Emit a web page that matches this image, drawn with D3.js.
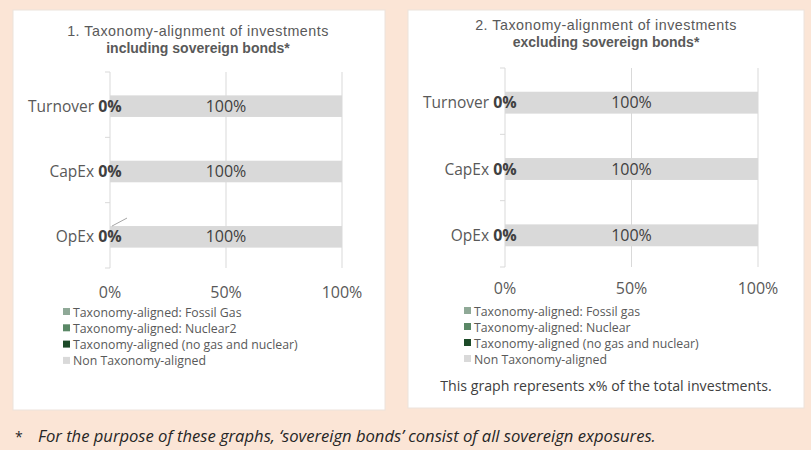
<!DOCTYPE html>
<html>
<head>
<meta charset="utf-8">
<script src="https://cdn.jsdelivr.net/npm/d3@7/dist/d3.min.js"></script>
<style>
  html, body { margin: 0; padding: 0; background: #fbe5d6; }
  svg { display: block; font-family: "Open Sans", sans-serif; }
</style>
</head>
<body>
<svg id="chart" width="811" height="450"></svg>
<script>
// ---- data ----
const categories = ["Turnover", "CapEx", "OpEx"];
const xTicks = [0, 50, 100];
const seriesKeys = ["gas", "nuclear", "aligned", "non"];
const seriesColors = ["#8fa997", "#5a8866", "#1c4a28", "#d9d9d9"];

// Chart 1: including sovereign bonds
const incGas = [0, 0, 0];
const incNuclear = [0, 0, 0];
const incAligned = [0, 0, 0];
const incNon = [100, 100, 100];
const incLegend = ["Taxonomy-aligned: Fossil Gas", "Taxonomy-aligned: Nuclear2",
                   "Taxonomy-aligned (no gas and nuclear)", "Non Taxonomy-aligned"];
const incTitle = ["1. Taxonomy-alignment of investments", "including sovereign bonds*"];

// Chart 2: excluding sovereign bonds
const excGas = [0, 0, 0];
const excNuclear = [0, 0, 0];
const excAligned = [0, 0, 0];
const excNon = [100, 100, 100];
const excLegend = ["Taxonomy-aligned: Fossil gas", "Taxonomy-aligned: Nuclear",
                   "Taxonomy-aligned (no gas and nuclear)", "Non Taxonomy-aligned"];
const excTitle = ["2. Taxonomy-alignment of investments", "excluding sovereign bonds*"];
const excNote = "This graph represents x% of the total investments.";

const footnote = "For the purpose of these graphs, \u2018sovereign bonds\u2019 consist of all sovereign exposures.";

// ---- drawing ----
const svg = d3.select("#chart");

function buildRows(gas, nuclear, aligned, non) {
  return categories.map((c, i) => ({cat: c, gas: gas[i], nuclear: nuclear[i], aligned: aligned[i], non: non[i]}));
}

function drawPanel(o) {
  const g = svg.append("g");
  g.append("rect").attr("x", o.box[0]).attr("y", o.box[1])
    .attr("width", o.box[2] - o.box[0]).attr("height", o.box[3] - o.box[1])
    .attr("fill", "#ffffff").attr("stroke", "#ece3dc").attr("stroke-width", 1);

  const cx = o.titleX;
  g.append("text").attr("x", cx).attr("y", o.titleY[0]).attr("text-anchor", "middle")
    .attr("font-family", "'Liberation Sans', Arial, sans-serif").attr("letter-spacing", 0.5)
    .attr("font-size", 14.3).attr("fill", "#595959").text(o.title[0]);
  g.append("text").attr("x", cx).attr("y", o.titleY[1]).attr("text-anchor", "middle")
    .attr("font-family", "'Liberation Sans', Arial, sans-serif")
    .attr("font-size", 14).attr("font-weight", "bold").attr("fill", "#595959").text(o.title[1]);

  const x = d3.scaleLinear().domain([0, 100]).range(o.xr);
  const y = d3.scaleBand().domain(categories).range(o.yr).padding(0);

  // gridlines
  g.selectAll(".grid").data(xTicks).join("line")
    .attr("x1", d => x(d)).attr("x2", d => x(d))
    .attr("y1", o.yr[0]).attr("y2", o.yr[1])
    .attr("stroke", "#d9d9d9").attr("stroke-width", 1);

  // left axis with category boundary ticks
  const bounds = categories.map(c => y(c)).concat([o.yr[1]]);
  g.selectAll(".ytick").data(bounds).join("line")
    .attr("x1", x(0) - 5).attr("x2", x(0))
    .attr("y1", d => d).attr("y2", d => d)
    .attr("stroke", "#d9d9d9");

  // x tick labels
  g.selectAll(".xlab").data(xTicks).join("text")
    .attr("x", d => x(d)).attr("y", o.xLabY).attr("text-anchor", "middle")
    .attr("font-size", 16).attr("fill", "#595959").text(d => d + "%");

  const rows = buildRows(...o.data);
  const stack = d3.stack().keys(seriesKeys)(rows);
  const barH = y.bandwidth() * 0.33;
  const barOff = (y.bandwidth() - barH) / 2 + 1.5;

  const layers = g.selectAll(".layer").data(stack).join("g")
    .attr("fill", (d, i) => seriesColors[i]);
  layers.selectAll("rect").data(d => d).join("rect")
    .attr("x", d => x(d[0])).attr("width", d => x(d[1]) - x(d[0]))
    .attr("y", d => y(d.data.cat) + barOff).attr("height", barH);

  // category labels
  g.selectAll(".cat").data(categories).join("text")
    .attr("x", x(0) - 16).attr("y", c => y(c) + barOff + barH / 2 + 5.5)
    .attr("text-anchor", "end").attr("font-size", 15.5).attr("fill", "#595959").text(c => c);

  // data labels: aligned series (bold) and non-aligned
  const alignedLayer = stack[2];
  g.selectAll(".lab0").data(alignedLayer).join("text")
    .attr("x", d => x((d[0] + d[1]) / 2)).attr("y", d => y(d.data.cat) + barOff + barH / 2 + 5.5)
    .attr("text-anchor", "middle").attr("font-size", 16).attr("font-weight", "bold")
    .attr("fill", "#404040").text(d => (d[1] - d[0]) + "%");
  const nonLayer = stack[3];
  g.selectAll(".lab1").data(nonLayer).join("text")
    .attr("x", d => x((d[0] + d[1]) / 2)).attr("y", d => y(d.data.cat) + barOff + barH / 2 + 5.5)
    .attr("text-anchor", "middle").attr("font-size", 16)
    .attr("fill", "#404040").text(d => (d[1] - d[0]) + "%");

  if (o.leader) {
    const last = categories[categories.length - 1];
    const ty = y(last) + barOff;
    g.append("line").attr("x1", x(0) + 2).attr("y1", ty)
      .attr("x2", x(0) + 17).attr("y2", ty - 8)
      .attr("stroke", "#a6a6a6").attr("stroke-width", 1);
  }

  // legend
  const lg = g.selectAll(".leg").data(o.legend).join("g")
    .attr("transform", (d, i) => `translate(${o.legX},${o.legY + i * o.legStep})`);
  lg.append("rect").attr("x", 0).attr("y", -4).attr("width", 7).attr("height", 7)
    .attr("fill", (d, i) => seriesColors[i]);
  lg.append("text").attr("x", 10).attr("y", 4.5).attr("font-size", 12.3)
    .attr("fill", "#595959").text(d => d);

  if (o.note) {
    g.append("text").attr("x", cx).attr("y", o.noteY).attr("text-anchor", "middle")
      .attr("font-size", 14.2).attr("fill", "#404040").text(o.note);
  }
}

drawPanel({
  box: [13, 10, 385, 410], title: incTitle, titleX: 198, titleY: [36, 52.5],
  xr: [110, 342], yr: [72, 268], xLabY: 298,
  data: [incGas, incNuclear, incAligned, incNon], legend: incLegend,
  legX: 63, legY: 312, legStep: 16.3, leader: true
});
drawPanel({
  box: [408, 10, 804, 408], title: excTitle, titleX: 606, titleY: [30, 46.5],
  xr: [505, 758], yr: [68, 267], xLabY: 294,
  data: [excGas, excNuclear, excAligned, excNon], legend: excLegend,
  legX: 464, legY: 311, legStep: 16, note: excNote, noteY: 391
});

svg.append("text").attr("x", 15).attr("y", 442).attr("font-size", 14)
  .attr("fill", "#262626").text("*");
svg.append("text").attr("x", 38).attr("y", 442).attr("font-size", 16.6)
  .attr("font-style", "italic").attr("fill", "#262626").text(footnote);
</script>
</body>
</html>
